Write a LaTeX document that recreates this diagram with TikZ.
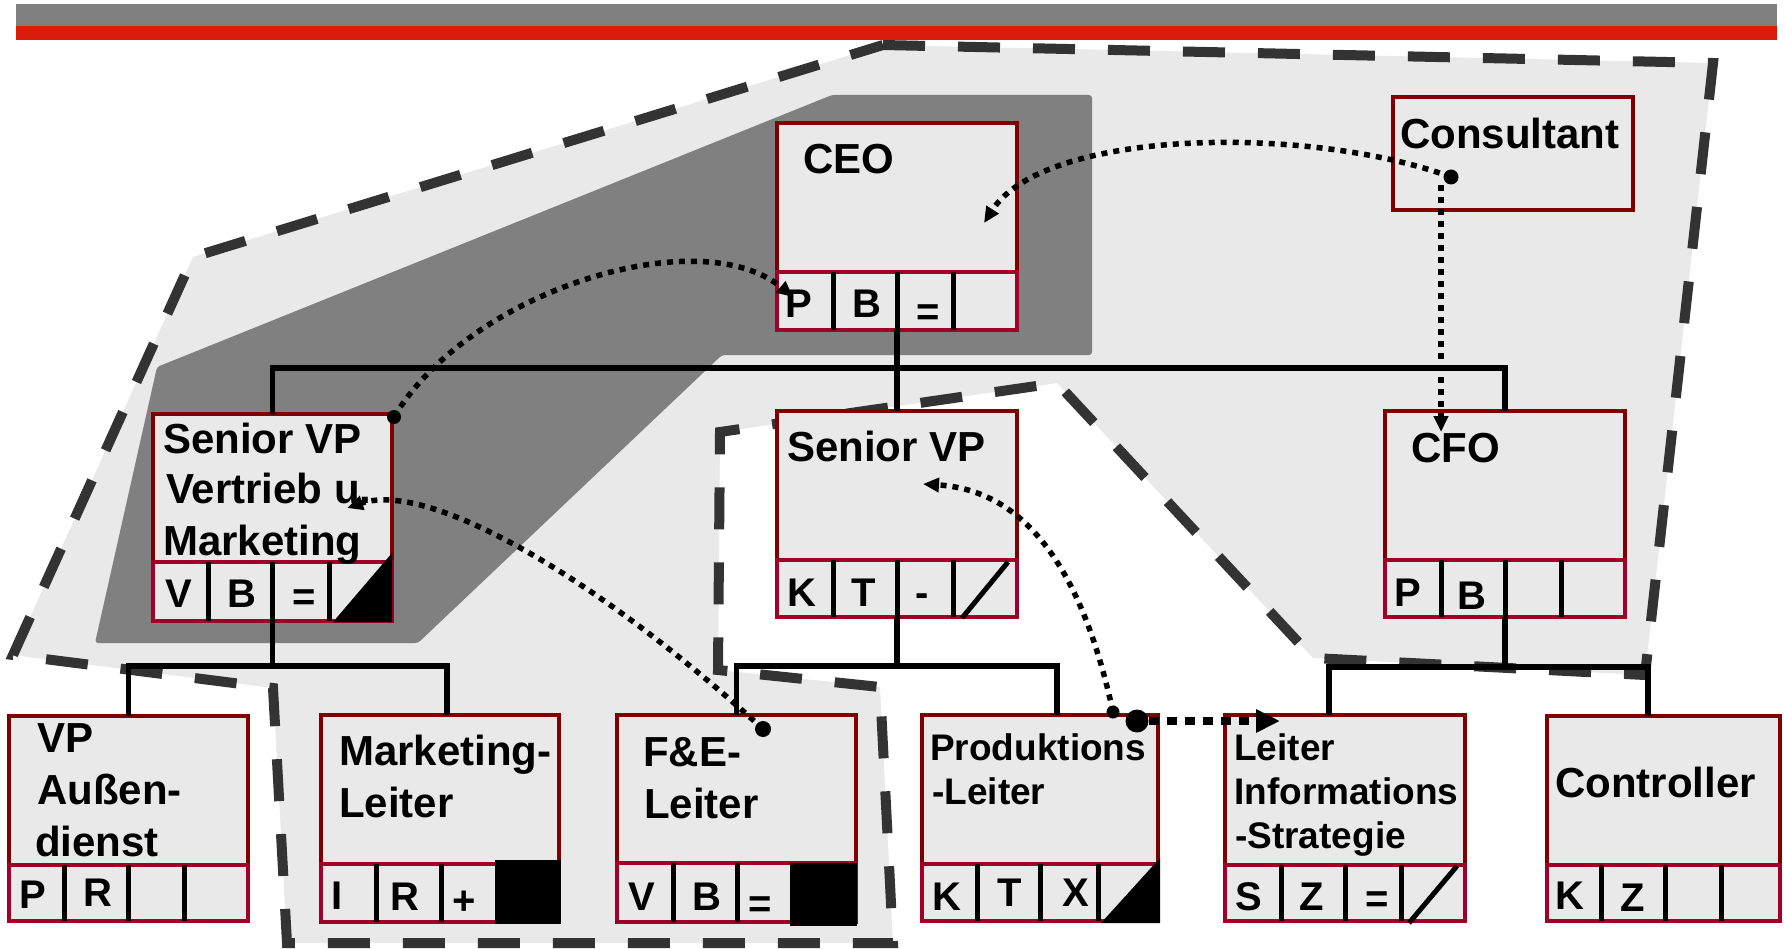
\documentclass[tikz,border=0pt]{standalone}
\usepackage{fontspec}
\setmainfont{Liberation Sans}
\usetikzlibrary{arrows.meta}
\definecolor{bargray}{HTML}{808080}
\definecolor{barred}{HTML}{DA1A0B}
\definecolor{lightfill}{HTML}{E9E9E9}
\definecolor{darkfill}{HTML}{808080}
\definecolor{dashcol}{HTML}{333333}
\definecolor{boxred}{HTML}{800000}
\definecolor{bandred}{HTML}{A00028}
\tikzset{
 orgbox/.style={draw=boxred, fill=lightfill, line width=4.8pt, inner sep=0pt, outer sep=0pt},
 bandline/.style={draw=bandred, line width=4.8pt},
 coldiv/.style={draw=black, line width=5pt},
 treeline/.style={draw=black, line width=5.5pt},
 lbl/.style={inner sep=0pt, anchor=base west, font=\bfseries\fontsize{42pt}{50pt}\selectfont},
 lbls/.style={inner sep=0pt, anchor=base west, font=\bfseries\fontsize{37pt}{44pt}\selectfont},
 cellt/.style={inner sep=0pt, anchor=base west, font=\bfseries\fontsize{40pt}{48pt}\selectfont},
 cellc/.style={cellt, anchor=base},
 dotline/.style={line width=5.5pt, dash pattern=on 6pt off 6pt},
 dotarrow/.style={dotline, -{Triangle[length=16pt,width=14pt]}},
 thickdot/.style={line width=8pt, dash pattern=on 10pt off 8pt, -{Triangle[length=24pt,width=22pt]}},
 dotnode/.style={circle, fill=black, inner sep=0pt},
}
\newcommand\obox[5]{%
 \node[orgbox, minimum width={(#4-#2)*1pt}, minimum height={(#5-#3)*1pt}] (#1) at ({(#2+#4)/2},{(#3+#5)/2}) {};}
\newcommand\oband[4]{\draw[bandline] (#1,#2) rectangle (#3,#4);}
\newcommand\ocols[3]{\foreach \cx in {#3} {\draw[coldiv] (\cx,#1) -- (\cx,#2);}}
\begin{document}
\begin{tikzpicture}[x=1pt,y=-1pt]
\useasboundingbox (0,0) rectangle (1784,949);
\fill[white] (0,0) rectangle (1784,949);
% top bars
\fill[bargray] (16,4) rectangle (1777,26);
\fill[barred] (16,26) rectangle (1777,40);
% outer region
\fill[lightfill] (883,45) -- (1713,63) -- (1645,675) -- (1313,658) -- (1057,383) -- (720,432) -- (718,670) -- (880,687) -- (893,943) -- (287,943) -- (273,688) -- (13,655) -- (193,257) -- cycle;
% inner dark region
\fill[darkfill, rounded corners=3pt] (832,95) -- (1092,95) -- (1092,355) -- (722,355) -- (418,643) -- (95,643) -- (157,367) -- cycle;
\draw[dashcol, line width=10pt, dash pattern=on 42pt off 33pt] (883,45) -- (1713,63) -- (1645,675) -- (1313,658) -- (1057,383) -- (720,432) -- (718,670) -- (880,687) -- (893,943) -- (287,943) -- (273,688) -- (13,655) -- (193,257) -- cycle;

% boxes
\obox{ceo}{777}{123}{1017}{330}
\oband{777}{272}{1017}{330}
\ocols{272}{330}{833,897,953}

\obox{cons}{1393}{97}{1633}{210}

\obox{svpvm}{153}{414}{392}{621}
\oband{153}{562}{392}{621}
\ocols{562}{621}{208,272.5,329}
\fill[black] (333,622) -- (392,553) -- (392,622) -- cycle;

\obox{svpm}{777}{411}{1017}{617}
\oband{777}{560}{1017}{617}
\ocols{560}{617}{833,897,953}
\draw[line width=5pt] (962,618) -- (1008,562);

\obox{cfo}{1385}{411}{1625}{617}
\oband{1385}{560}{1625}{617}
\ocols{560}{617}{1441,1505,1561}

\obox{vpa}{9}{716}{248}{921}
\oband{9}{865}{248}{921}
\ocols{865}{921}{64,128.5,184}

\obox{mkt}{321}{715}{559}{922}
\oband{321}{864}{559}{922}
\ocols{864}{922}{376,441}
\fill[black] (495,860) rectangle (561,924);

\obox{fe}{617}{715}{856}{922}
\oband{617}{863}{856}{922}
\ocols{863}{922}{673,737}
\fill[black] (790,863) rectangle (857,926);

\obox{prod}{922}{715}{1158}{921}
\oband{922}{864}{1158}{921}
\ocols{864}{921}{977,1040,1098}
\fill[black] (1101,923) -- (1160,858) -- (1160,923) -- cycle;

\obox{lis}{1225}{715}{1465}{921}
\oband{1225}{865}{1465}{921}
\ocols{865}{921}{1281,1345,1401}
\draw[line width=5pt] (1409,923) -- (1457,866);

\obox{ctrl}{1547}{716}{1780}{921}
\oband{1547}{865}{1780}{921}
\ocols{865}{921}{1601,1665,1721}

% tree connectors
\coordinate (jt) at (897,368);
\draw[treeline] (svpvm.north) |- (jt) -| (cfo.north);
\draw[treeline] (ceo.south) -- (svpm.north);
\coordinate (jl) at (272.5,666);
\draw[treeline] (svpvm.south) -- (jl);
\draw[treeline] (vpa.north) |- (jl) -| ([xshift=7pt]mkt.north);
\coordinate (jm) at (897,666);
\draw[treeline] (svpm.south) -- (jm);
\draw[treeline] (fe.north) |- (jm) -| ([xshift=17pt]prod.north);
\coordinate (jr) at (1505,667);
\draw[treeline] (cfo.south) -- (jr);
\draw[treeline] ([xshift=-16pt]lis.north) |- (jr) -| ([xshift=-15.5pt]ctrl.north);

% labels
\node[lbl] (tceo) at (803,174) {CEO};
\node[lbl] (tcons) at (1400,149) {Consultant};
\node[lbl] (tsv1) at (163,453) {Senior VP};
\node[lbl] (tsv2) at (166,503) {Vertrieb u.};
\node[lbl] (tsv3) at (163,555) {Marketing};
\node[lbl] (tsvm) at (787,461) {Senior VP};
\node[lbl] (tcfo) at (1411,462) {CFO};
\node[lbl] (tvp1) at (37,752) {VP};
\node[lbl] (tvp2) at (37,804) {Außen-};
\node[lbl] (tvp3) at (35,856) {dienst};
\node[lbl] (tmk1) at (339,765) {Marketing-};
\node[lbl] (tmk2) at (339,817) {Leiter};
\node[lbl] (tfe1) at (643,766) {F\&E-};
\node[lbl] (tfe2) at (644,818) {Leiter};
\node[lbls] (tpr1) at (930,760) {Produktions};
\node[lbls] (tpr2) at (932,804) {-Leiter};
\node[lbls] (tli1) at (1234,760) {Leiter};
\node[lbls] (tli2) at (1234,804) {Informations};
\node[lbls] (tli3) at (1235,848) {-Strategie};
\node[lbl] (tctl) at (1555,797) {Controller};

% cell letters
\node[cellt] (c1) at (785,317) {P};
\node[cellt] (c2) at (852,317) {B};
\node[cellc] (c3) at (928,325) {=};
\node[cellt] (c4) at (165,607) {V};
\node[cellt] (c5) at (227,607) {B};
\node[cellc] (c6) at (304,610) {=};
\node[cellt] (c7) at (787,606) {K};
\node[cellt] (c8) at (851,606) {T};
\node[cellc] (c9) at (922,606) {-};
\node[cellt] (c10) at (1394,606) {P};
\node[cellt] (c11) at (1457,609) {B};
\node[cellt] (c12) at (19,908) {P};
\node[cellt] (c13) at (83,906) {R};
\node[cellt] (c14) at (331,909) {I};
\node[cellt] (c15) at (390,910) {R};
\node[cellc] (c16) at (464,914) {+};
\node[cellt] (c17) at (628,910) {V};
\node[cellt] (c18) at (692,910) {B};
\node[cellc] (c19) at (760,917) {=};
\node[cellt] (c20) at (932,910) {K};
\node[cellt] (c21) at (997,906) {T};
\node[cellt] (c22) at (1062,906) {X};
\node[cellt] (c23) at (1235,910) {S};
\node[cellt] (c24) at (1299,910) {Z};
\node[cellc] (c25) at (1377,912) {=};
\node[cellt] (c26) at (1555,909) {K};
\node[cellt] (c27) at (1620,911) {Z};

% dotted relations
\node[dotnode, minimum size=15pt] (dcons) at (1451,177) {};
\node[dotnode, minimum size=14pt] (dsvp) at (394,417) {};
\node[dotnode, minimum size=16pt] (dfe) at (763,729) {};
\node[dotnode, minimum size=13pt] (dprod) at (1113,712) {};
\node[dotnode, minimum size=23pt] (dprodb) at (1137,721) {};
\coordinate (aceo) at (984,223);
\coordinate (vstart) at (1441,185);
\coordinate (acfo) at (1441,432);
\coordinate (aceop) at (793,297);
\coordinate (asvpvm) at (347,508);
\coordinate (asvpm) at (923,484);
\coordinate (alis) at (1280,721);
\draw[dotarrow] (dcons.center) .. controls (1310,125) and (1045,128) .. (aceo);
\draw[dotarrow] (vstart) -- (acfo);
\draw[dotarrow] (dsvp.center) .. controls (470,290) and (700,220) .. (aceop);
\draw[dotarrow] (dfe.center) .. controls (600,580) and (430,480) .. (asvpvm);
\draw[dotarrow] (dprod.center) .. controls (1080,560) and (1020,490) .. (asvpm);
\draw[thickdot] (dprodb.east) -- (alis);
\end{tikzpicture}
\end{document}
